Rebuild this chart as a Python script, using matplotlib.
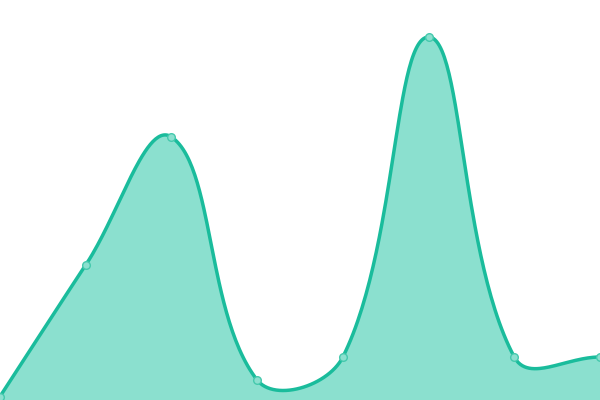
import numpy as np
import matplotlib
matplotlib.use("Agg")
import matplotlib.pyplot as plt

# данные (ось y скрыта)
labels = ["A", "B", "C", "D", "E", "F", "G", "H"]
values = [3.5, 135, 263, 20, 43, 363, 43, 43]

line_color = "#1abc9c"
fill_color = "#8be0cf"
tension = 0.4


def control_points(pts, t):
    """Контрольные точки сплайна как в Chart.js (splineCurve)"""
    n = len(pts)
    cps = []
    for i in range(n):
        prev = pts[i - 1] if i > 0 else pts[i]
        cur = pts[i]
        nxt = pts[i + 1] if i < n - 1 else pts[i]
        d01 = np.hypot(*(cur - prev))
        d12 = np.hypot(*(nxt - cur))
        tot = d01 + d12
        s01 = d01 / tot if tot else 0
        s12 = d12 / tot if tot else 0
        fa = t * s01
        fb = t * s12
        cps.append((cur - fa * (nxt - prev), cur + fb * (nxt - prev)))
    return cps


fig = plt.figure(figsize=(6, 4), dpi=100)
ax = fig.add_axes([0, 0, 1, 1])
ax.set_xlim(0, len(values) - 1)
ax.set_ylim(0, 400)
ax.axis("off")

x = np.arange(len(values))
pts = ax.transData.transform(np.column_stack([x, values]))
cps = control_points(pts, tension)

tt = np.linspace(0, 1, 60)[:, None]
curve = []
for i in range(len(pts) - 1):
    p0 = pts[i]
    p1 = cps[i][1]
    p2 = cps[i + 1][0]
    p3 = pts[i + 1]
    seg = ((1 - tt) ** 3 * p0 + 3 * (1 - tt) ** 2 * tt * p1
           + 3 * (1 - tt) * tt ** 2 * p2 + tt ** 3 * p3)
    curve.append(seg)
curve = np.vstack(curve)
curve = ax.transData.inverted().transform(curve)

ax.fill_between(curve[:, 0], curve[:, 1], 0, color=fill_color, lw=0, zorder=1)
ax.plot(curve[:, 0], curve[:, 1], color=line_color, lw=2.5, zorder=2,
        solid_capstyle="round")
ax.plot(x, values, "o", ms=5.5, mfc=fill_color, mec="#45c9ad", mew=1,
        zorder=3, clip_on=False)

fig.savefig("out.png", dpi=100)
